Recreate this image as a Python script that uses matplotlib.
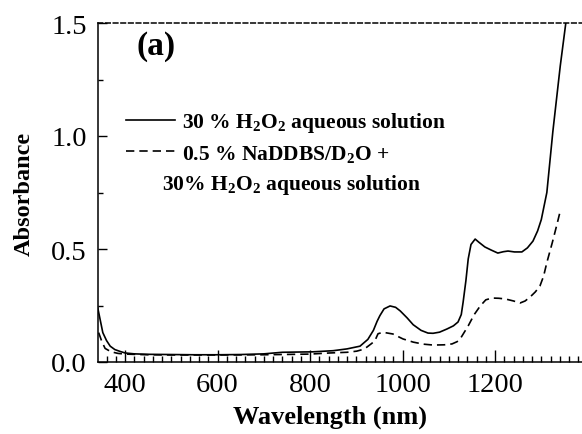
"""
Absorbance spectra of H2O2 solutions, panel (a).
"""

import numpy as np
import matplotlib
matplotlib.use('Agg')
import matplotlib.pyplot as plt

plt.rcParams['font.family'] = 'Liberation Serif'
plt.rcParams['mathtext.fontset'] = 'custom'
plt.rcParams['mathtext.rm'] = 'Liberation Serif:bold'
plt.rcParams['mathtext.bf'] = 'Liberation Serif:bold'
plt.rcParams['mathtext.default'] = 'bf'

# 30 % H2O2 aqueous solution
wl_h2o2 = [340, 346, 352, 360, 368, 378, 389, 400, 420, 450, 500, 550, 600,
           650, 700, 740, 770, 806, 850, 880, 908, 925, 937, 945, 951, 960,
           973, 985, 995, 1010, 1023, 1040, 1055, 1066, 1080, 1096, 1110,
           1120, 1127, 1131, 1137, 1142, 1148, 1157, 1165, 1178, 1192, 1206,
           1218, 1228, 1242, 1258, 1270, 1282, 1292, 1300, 1312, 1325, 1341,
           1353, 1360]
abs_h2o2 = [0.25, 0.19, 0.13, 0.095, 0.07, 0.055, 0.047, 0.04, 0.036, 0.034,
            0.033, 0.032, 0.032, 0.033, 0.036, 0.043, 0.044, 0.045, 0.05,
            0.058, 0.07, 0.10, 0.14, 0.18, 0.205, 0.235, 0.248, 0.242, 0.226,
            0.195, 0.165, 0.14, 0.128, 0.127, 0.132, 0.146, 0.16, 0.177, 0.21,
            0.265, 0.36, 0.456, 0.52, 0.544, 0.53, 0.509, 0.495, 0.482, 0.488,
            0.491, 0.487, 0.487, 0.505, 0.535, 0.58, 0.63, 0.75, 1.02, 1.31,
            1.50, 1.62]

# 0.5 % NaDDBS/D2O + 30 % H2O2 aqueous solution
wl_mix = [343, 350, 357, 370, 385, 400, 450, 500, 600, 700, 800, 843, 880,
          901, 915, 923, 932, 940, 947, 955, 962, 979, 990, 1001, 1023, 1045,
          1066, 1090, 1107, 1118, 1124, 1133, 1142, 1155, 1168, 1180, 1193,
          1208, 1222, 1240, 1254, 1265, 1276, 1287, 1297, 1305, 1312, 1324,
          1334, 1340]
abs_mix = [0.13, 0.09, 0.06, 0.045, 0.038, 0.035, 0.032, 0.031, 0.031, 0.032,
           0.035, 0.04, 0.043, 0.048, 0.056, 0.066, 0.08, 0.093, 0.125, 0.13,
           0.13, 0.124, 0.113, 0.102, 0.088, 0.079, 0.075, 0.076, 0.08, 0.09,
           0.10, 0.13, 0.16, 0.21, 0.248, 0.275, 0.283, 0.282, 0.279, 0.27,
           0.261, 0.27, 0.288, 0.31, 0.336, 0.38, 0.44, 0.53, 0.61, 0.66]

label_h2o2 = '30 % H$_2$O$_2$ aqueous solution'
label_mix = '0.5 % NaDDBS/D$_2$O +'
label_mix2 = '30% H$_2$O$_2$ aqueous solution'

fig = plt.figure(figsize=(5.82, 4.35), dpi=100)
ax = fig.add_axes([98 / 582, 72 / 435, 1 - 98 / 582, 339 / 435])

ax.plot(wl_h2o2, abs_h2o2, 'k-', lw=1.2, label=label_h2o2)
ax.plot(wl_mix, abs_mix, color='k', ls=(0, (5, 3)), lw=1.2, label=label_mix)

ax.set_xlim(341.6, 1388)
ax.set_ylim(0, 1.5)
ax.set_xticks([400, 600, 800, 1000, 1200])
ax.set_xticks(np.arange(360, 1390, 20), minor=True)
ax.set_yticks([0.0, 0.5, 1.0, 1.5])
ax.set_yticks([0.25, 0.75, 1.25], minor=True)
ax.set_yticklabels(['0.0', '0.5', '1.0', '1.5'])

ax.tick_params(axis='x', which='major', direction='in', length=9, width=1,
               labelsize=20.5, pad=7)
ax.tick_params(axis='x', which='minor', direction='in', length=4.5, width=1)
ax.tick_params(axis='y', which='major', direction='in', length=6.5, width=1,
               labelsize=20.5, pad=8)
ax.tick_params(axis='y', which='minor', direction='in', length=3.6, width=1)

ax.spines['right'].set_visible(False)
ax.spines['top'].set_linestyle((0, (3, 2)))
for s in ('left', 'bottom', 'top'):
    ax.spines[s].set_linewidth(1.1)

ax.set_xlabel('Wavelength (nm)', fontsize=19, fontweight='bold', labelpad=6)
ax.xaxis.set_label_coords(0.479, -0.125)
ax.set_ylabel('Absorbance', fontsize=17.5, fontweight='bold', labelpad=12)

ax.text(0.08, 0.98, '(a)', transform=ax.transAxes, fontsize=24,
        fontweight='bold', va='top', ha='left')

leg = ax.legend(loc='upper left', bbox_to_anchor=(0.035, 0.775), frameon=False,
                prop={'size': 15.5, 'weight': 'bold'}, handlelength=2.3,
                handletextpad=0.3, labelspacing=0.4, borderpad=0)
ax.text(0.132, 0.51, label_mix2, transform=ax.transAxes, fontsize=15.5,
        fontweight='bold', va='baseline', ha='left')

fig.savefig('out.png', dpi=100)
